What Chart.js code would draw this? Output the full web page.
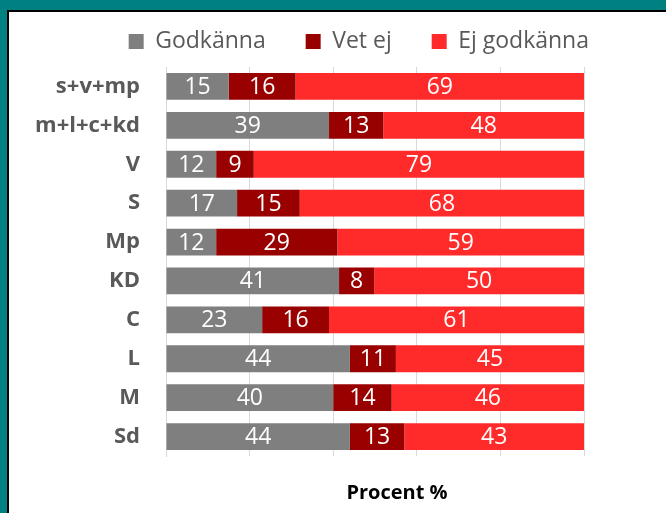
<!DOCTYPE html>
<html lang="sv">
<head>
<meta charset="UTF-8">
<title>Procent %</title>
<script src="https://cdn.jsdelivr.net/npm/chart.js"></script>
<style>
  body { margin: 0; background: #008080; }
  #ram {
    position: absolute; left: 7px; top: 10px;
    width: 657px; height: 501px;
    border-top: 2px solid #000; border-left: 2px solid #000;
    background: #fff;
  }
</style>
</head>
<body>
<div id="ram"><canvas id="myChart"></canvas></div>
<script>
// data (avrundas i etiketterna)
const partier = ['s+v+mp', 'm+l+c+kd', 'V', 'S', 'Mp', 'KD', 'C', 'L', 'M', 'Sd'];
const godkanna   = [15, 39, 12, 17, 12, 41.4, 23, 44, 40, 44];
const vetEj      = [16, 13,  9, 15, 29,  8.4, 16, 11, 14, 13];
const ejGodkanna = [69, 48, 79, 68, 59, 50.2, 61, 45, 46, 43];
const xMin = 0, xMax = 100, xStep = 20;

// siffror i staplarna
const barLabels = {
  id: 'barLabels',
  afterDatasetsDraw(chart) {
    const ctx = chart.ctx;
    ctx.save();
    ctx.fillStyle = '#fff';
    ctx.font = '23px "Open Sans"';
    ctx.textAlign = 'center';
    ctx.textBaseline = 'middle';
    chart.data.datasets.forEach((ds, i) => {
      chart.getDatasetMeta(i).data.forEach((bar, j) => {
        const mid = (bar.x + bar.base) / 2;
        ctx.fillText(Math.round(ds.data[j]), mid, bar.y + 1);
      });
    });
    ctx.restore();
  }
};

// förklaring och axeltitel: lite luft och flyttade åt höger
const boxShift = {
  id: 'boxShift',
  afterInit(chart) {
    const leg = chart.legend;
    const fit = leg.fit.bind(leg);
    leg.fit = function () { fit(); this.height += 4; };
  },
  afterLayout(chart) {
    chart.legend.left += 45;
    chart.legend.right += 45;
    chart.titleBlock.left += 22;
    chart.titleBlock.right += 22;
  }
};

const ctx = document.querySelector('#myChart');
const chart = new Chart(ctx, {
  type: 'bar',
  data: {
    labels: partier,
    datasets: [
      { label: 'Godkänna', data: godkanna, backgroundColor: '#7f7f7f' },
      { label: 'Vet ej', data: vetEj, backgroundColor: '#990000' },
      { label: 'Ej godkänna', data: ejGodkanna, backgroundColor: '#ff2a2a' }
    ]
  },
  options: {
    indexAxis: 'y',
    responsive: true,
    maintainAspectRatio: false,
    animation: false,
    barPercentage: 0.69,
    categoryPercentage: 1,
    layout: { padding: { top: -22, right: 82, bottom: 8, left: 0 } },
    plugins: {
      legend: {
        position: 'top',
        align: 'end',
        labels: {
          color: '#595959',
          font: { family: 'Open Sans', size: 23 },
          boxWidth: 15,
          boxHeight: 15,
          padding: 40
        }
      },
      title: {
        display: true,
        position: 'bottom',
        fullSize: false,
        text: 'Procent %',
        color: '#000',
        font: { family: 'Open Sans', size: 20, weight: 'bold' },
        padding: { top: 25, bottom: 0 }
      },
      tooltip: { enabled: false }
    },
    scales: {
      x: {
        stacked: true,
        min: xMin,
        max: xMax,
        ticks: { display: false, stepSize: xStep },
        grid: { color: '#d9d9d9', drawTicks: false },
        border: { display: false }
      },
      y: {
        stacked: true,
        grid: { display: false, drawTicks: false },
        border: { color: '#d9d9d9' },
        ticks: {
          color: '#595959',
          font: { family: 'Open Sans', size: 22, weight: 'bold' },
          padding: 26
        },
        afterFit(scale) { scale.width = 157; }
      }
    }
  },
  plugins: [barLabels, boxShift]
});
</script>
</body>
</html>
